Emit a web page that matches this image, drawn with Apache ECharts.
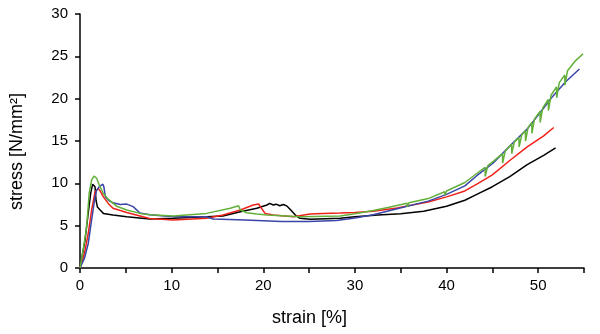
<!DOCTYPE html>
<html>
<head>
<meta charset="utf-8">
<script src="https://cdn.jsdelivr.net/npm/echarts@6/dist/echarts.min.js"></script>
<style>
  html, body { margin: 0; padding: 0; background: #fff; }
  #chart { width: 600px; height: 334px; }
</style>
</head>
<body>
<div id="chart"></div>
<script>
// strain [%], stress [N/mm2]
var blackCurve = [[0,0],[0.55,3.3],[0.9,6.5],[1.17,8.85],[1.38,9.9],[1.64,9.6],[1.75,8.0],[1.9,7.2],[2.2,6.85],[2.55,6.45],[3.6,6.25],[5.1,6.06],[7.6,5.8],[10.2,5.87],[13.8,6.06],[15.6,6.14],[17.5,6.65],[19.3,7.05],[20.4,7.44],[20.7,7.64],[21.1,7.44],[21.4,7.54],[21.8,7.36],[22.2,7.5],[22.6,7.3],[23.0,6.85],[23.5,6.25],[24.0,5.87],[25.1,5.75],[28.4,5.87],[30,6.05],[32.5,6.25],[35,6.4],[37.5,6.7],[40,7.3],[42,8.0],[43.3,8.7],[45,9.6],[46.9,10.8],[48.8,12.2],[50.6,13.3],[51.9,14.2]];
var redCurve = [[0,0],[0.5,1.8],[0.9,4.1],[1.27,6.85],[1.64,9.0],[2.0,9.4],[2.26,9.0],[2.55,8.4],[3.1,7.6],[3.6,7.05],[5.1,6.55],[6.55,6.15],[7.6,5.85],[10.2,5.67],[13.8,5.87],[15.6,6.25],[17.5,6.85],[18.9,7.44],[19.5,7.56],[19.8,7.05],[20.2,6.45],[21.1,6.25],[23.3,6.06],[25.1,6.37],[26.5,6.45],[28.4,6.5],[30,6.55],[32,6.7],[34.6,7.1],[38,7.8],[40,8.4],[42,9.1],[43.3,9.9],[45,11.0],[46.9,12.7],[48.8,14.3],[50.6,15.6],[51.7,16.6]];
var greenCurve = [[0,0],[0.4,2.5],[0.73,4.9],[1.0,8.8],[1.27,10.4],[1.53,10.85],[1.82,10.6],[2.1,9.8],[2.55,8.8],[3.1,8.1],[4.0,7.3],[5.1,6.85],[6.55,6.45],[7.6,6.3],[10.2,6.14],[13.8,6.45],[16.4,7.05],[17.3,7.36],[17.5,6.85],[18.2,6.53],[19.3,6.37],[20.4,6.25],[24,6.06],[28.4,6.14],[30,6.4],[32,6.8],[33.6,7.15],[33.62,6.95],[33.8,7.2],[35.7,7.65],[35.72,7.25],[35.9,7.7],[38,8.2],[39.8,9.0],[39.82,8.6],[40,9.1],[42,10.1],[44.2,11.9],[44.22,10.8],[44.5,12.1],[45.1,12.6],[46.1,13.5],[46.12,12.4],[46.4,13.8],[47.1,14.6],[47.12,13.5],[47.4,14.9],[47.9,15.4],[47.92,14.3],[48.2,15.7],[48.6,16.2],[48.62,15.0],[48.9,16.6],[49.3,17.2],[49.32,15.9],[49.6,17.6],[50.2,18.5],[50.22,17.2],[50.5,18.9],[51.1,19.9],[51.12,18.6],[51.4,20.4],[52.0,21.4],[52.02,20.1],[52.3,21.9],[52.9,22.8],[52.92,21.6],[53.2,23.3],[54,24.4],[54.9,25.3]];
var blueCurve = [[0,0],[0.5,1.2],[0.9,2.9],[1.27,5.7],[1.64,8.4],[1.82,9.2],[2.1,9.6],[2.5,9.9],[2.6,9.6],[2.77,8.4],[3.1,8.0],[3.6,7.7],[4.4,7.5],[5.1,7.55],[5.8,7.25],[6.55,6.5],[7.6,6.3],[10.2,6.06],[13.8,6.06],[14.55,5.78],[18,5.67],[22,5.5],[25,5.5],[28,5.6],[30,5.9],[32,6.3],[34.6,7.0],[38,7.9],[40,8.7],[42,9.7],[43.3,10.9],[45.1,12.4],[46.9,14.4],[48.8,16.4],[50.6,18.9],[51.6,20.3],[53,22.0],[54.5,23.5]];

var xTicks = [0, 55, 5];   // min, max, interval
var yTicks = [0, 30, 5];

var font = "'Liberation Sans', Arial, sans-serif";

function line(name, data, color) {
  return {
    name: name,
    type: "line",
    data: data,
    showSymbol: false,
    smooth: false,
    lineStyle: { color: color, width: 1.5 },
  };
}

var myChart = echarts.init(document.getElementById("chart"));
myChart.setOption({
  animation: false,
  grid: {
    left: 80,
    right: 16,
    top: 14,
    bottom: 66,
    containLabel: false,
    outerBoundsMode: "none",
  },
  xAxis: {
    type: "value",
    min: xTicks[0],
    max: xTicks[1],
    interval: xTicks[2],
    name: "strain [%]",
    nameLocation: "middle",
    nameGap: 41,
    nameTextStyle: { fontFamily: font, fontSize: 18, color: "#000", padding: [0, 45, 0, 0] },
    axisLine: { show: true, onZero: false, lineStyle: { color: "#000", width: 1.5 } },
    axisTick: { show: true, length: 5, lineStyle: { color: "#000", width: 1.5 } },
    axisLabel: {
      fontFamily: font,
      fontSize: 15,
      color: "#000",
      margin: 10,
      formatter: function (v) { return v % 10 === 0 ? String(v) : ""; },
    },
    splitLine: { show: false },
  },
  yAxis: {
    type: "value",
    min: yTicks[0],
    max: yTicks[1],
    interval: yTicks[2],
    name: "stress [N/mm²]",
    nameLocation: "middle",
    nameGap: 54,
    nameTextStyle: { fontFamily: font, fontSize: 18, color: "#000", padding: [0, 21, 0, 0] },
    axisLine: { show: true, lineStyle: { color: "#000", width: 1.5 } },
    axisTick: { show: true, length: 5, lineStyle: { color: "#000", width: 1.5 } },
    axisLabel: { fontFamily: font, fontSize: 15, color: "#000", margin: 12 },
    splitLine: { show: false },
  },
  series: [
    line("black", blackCurve, "#000000"),
    line("red", redCurve, "#ee2219"),
    line("blue", blueCurve, "#3a45a8"),
    line("green", greenCurve, "#62b03a"),
  ],
});
</script>
</body>
</html>
